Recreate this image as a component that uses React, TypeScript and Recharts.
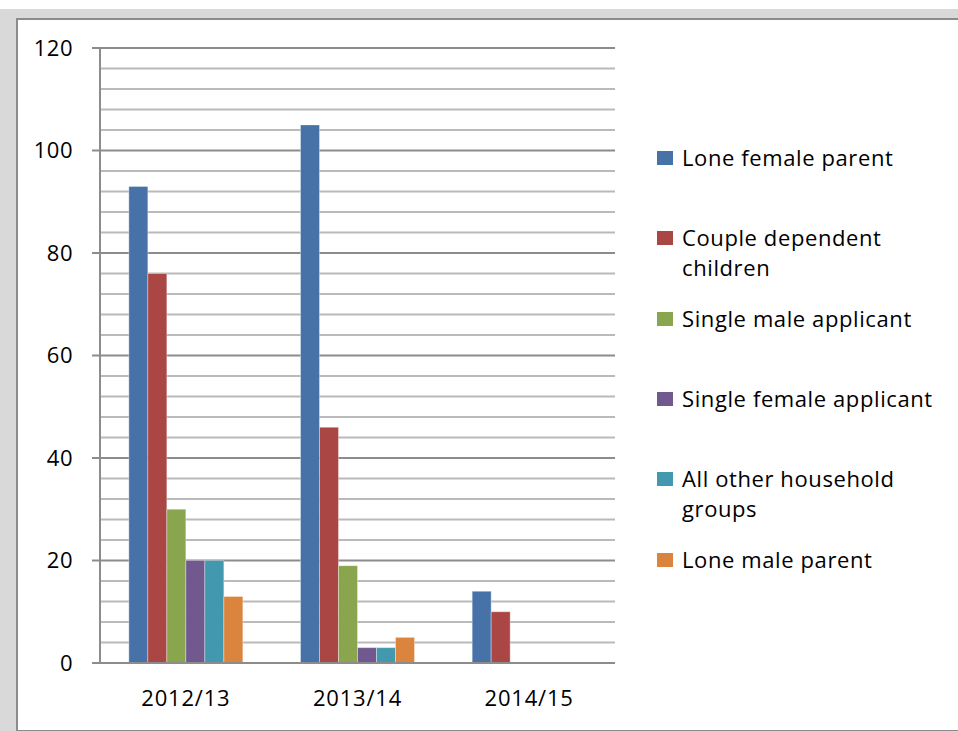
import React from "react";
import { BarChart, Bar, XAxis, YAxis, CartesianGrid } from "recharts";

const categories = ["2012/13", "2013/14", "2014/15"];
const loneFemaleParent = [93, 105, 14];
const coupleDependentChildren = [76, 46, 10];
const singleMaleApplicant = [30, 19, 0];
const singleFemaleApplicant = [20, 3, 0];
const allOtherHouseholdGroups = [20, 3, 0];
const loneMaleParent = [13, 5, 0];

const yTicks = [0, 20, 40, 60, 80, 100, 120];
const minorGrid = [4, 8, 12, 16, 24, 28, 32, 36, 44, 48, 52, 56, 64, 68, 72, 76, 84, 88, 92, 96, 104, 108, 112, 116];
const majorGrid = [20, 40, 60, 80, 100, 120];

const series = [
  { key: "lfp", name: "Lone female parent", values: loneFemaleParent, color: "#4672A8" },
  { key: "cdc", name: "Couple dependent children", values: coupleDependentChildren, color: "#AA4643" },
  { key: "sma", name: "Single male applicant", values: singleMaleApplicant, color: "#89A54E" },
  { key: "sfa", name: "Single female applicant", values: singleFemaleApplicant, color: "#71588F" },
  { key: "aoh", name: "All other household groups", values: allOtherHouseholdGroups, color: "#4198AF" },
  { key: "lmp", name: "Lone male parent", values: loneMaleParent, color: "#DB843D" },
];

const legendLines: string[][] = [
  ["Lone female parent"],
  ["Couple dependent", "children"],
  ["Single male applicant"],
  ["Single female applicant"],
  ["All other household", "groups"],
  ["Lone male parent"],
];

const data = categories.map((c, i) => {
  const row: Record<string, string | number> = { category: c };
  series.forEach((s) => {
    row[s.key] = s.values[i];
  });
  return row;
});

const FONT = "'Open Sans', sans-serif";

export default function App() {
  return (
    <div style={{ position: "absolute", left: 0, top: 0, width: 958, height: 731, background: "#ffffff", overflow: "hidden", fontFamily: FONT }}>
      <div style={{ position: "absolute", left: 0, top: 9, width: 958, height: 722, background: "#d9d9d9" }} />
      <div
        style={{
          position: "absolute",
          left: 16,
          top: 18,
          width: 960,
          height: 710,
          background: "#ffffff",
          borderTop: "2px solid #8c8c8c",
          borderLeft: "2px solid #8c8c8c",
          borderBottom: "2px solid #8c8c8c",
        }}
      />
      <div style={{ position: "absolute", left: 0, top: 0 }}>
        <BarChart
          width={958}
          height={731}
          data={data}
          margin={{ top: 48, right: 343, bottom: 0, left: 40 }}
          barCategoryGap="16.8%"
          barGap={0}
        >
          <CartesianGrid vertical={false} horizontalValues={minorGrid} stroke="#bababa" strokeWidth={2} />
          <CartesianGrid vertical={false} horizontalValues={majorGrid} stroke="#8c8c8c" strokeWidth={2} />
          <XAxis
            dataKey="category"
            height={68}
            tickLine={false}
            tickSize={0}
            tickMargin={27}
            axisLine={{ stroke: "#8c8c8c", strokeWidth: 2 }}
            tick={{ fill: "#000000", fontSize: 22, fontFamily: FONT, letterSpacing: 0.8 }}
          />
          <YAxis
            width={60}
            domain={[0, 120]}
            ticks={yTicks}
            interval={0}
            tickSize={8}
            tickMargin={19}
            axisLine={{ stroke: "#8c8c8c", strokeWidth: 2 }}
            tickLine={{ stroke: "#8c8c8c", strokeWidth: 2 }}
            tick={{ fill: "#000000", fontSize: 22, fontFamily: FONT, letterSpacing: 0.5 }}
          />
          {series.map((s) => (
            <Bar
              key={s.key}
              dataKey={s.key}
              name={s.name}
              fill={s.color}
              stroke="#ffffff"
              strokeOpacity={0.35}
              strokeWidth={1}
              isAnimationActive={false}
            />
          ))}
        </BarChart>
      </div>
      {series.map((s, i) => (
        <div key={s.key} style={{ position: "absolute", left: 657, top: 142 + i * 80.3, display: "flex", alignItems: "flex-start" }}>
          <div style={{ width: 16, height: 14, background: s.color, marginTop: 9, marginRight: 9 }} />
          <div style={{ fontSize: 22, lineHeight: "30px", color: "#000000", fontFamily: FONT, whiteSpace: "nowrap", letterSpacing: 0.6 }}>
            {legendLines[i].map((l, j) => (
              <div key={j}>{l}</div>
            ))}
          </div>
        </div>
      ))}
    </div>
  );
}
